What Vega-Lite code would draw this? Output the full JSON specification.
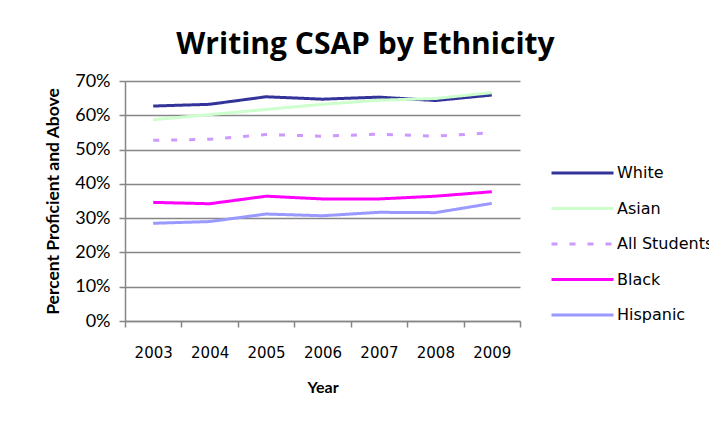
{
  "$schema": "https://vega.github.io/schema/vega-lite/v6.json",
  "width": 395,
  "height": 240,
  "autosize": {"type": "none"},
  "padding": {"left": 125, "top": 81, "right": 189, "bottom": 101},
  "background": "white",
  "title": {
    "text": "Writing CSAP by Ethnicity",
    "font": "Open Sans",
    "fontWeight": "bold",
    "fontSize": 30,
    "color": "black",
    "anchor": "middle",
    "dx": 43,
    "offset": 12
  },
  "config": {
    "view": {"stroke": null},
    "axis": {
      "domainColor": "#868686",
      "tickColor": "#868686",
      "gridColor": "#868686",
      "labelColor": "black",
      "titleColor": "black"
    },
    "legend": {"labelColor": "black"}
  },
  "data": {
    "values": [
      {"year": "2003", "group": "White", "pct": 0.627},
      {"year": "2004", "group": "White", "pct": 0.632},
      {"year": "2005", "group": "White", "pct": 0.654},
      {"year": "2006", "group": "White", "pct": 0.647},
      {"year": "2007", "group": "White", "pct": 0.653},
      {"year": "2008", "group": "White", "pct": 0.643},
      {"year": "2009", "group": "White", "pct": 0.659},
      {"year": "2003", "group": "Asian", "pct": 0.587},
      {"year": "2004", "group": "Asian", "pct": 0.602},
      {"year": "2005", "group": "Asian", "pct": 0.617},
      {"year": "2006", "group": "Asian", "pct": 0.632},
      {"year": "2007", "group": "Asian", "pct": 0.644},
      {"year": "2008", "group": "Asian", "pct": 0.649},
      {"year": "2009", "group": "Asian", "pct": 0.666},
      {"year": "2003", "group": "All Students", "pct": 0.527},
      {"year": "2004", "group": "All Students", "pct": 0.530},
      {"year": "2005", "group": "All Students", "pct": 0.544},
      {"year": "2006", "group": "All Students", "pct": 0.539},
      {"year": "2007", "group": "All Students", "pct": 0.545},
      {"year": "2008", "group": "All Students", "pct": 0.539},
      {"year": "2009", "group": "All Students", "pct": 0.549},
      {"year": "2003", "group": "Black", "pct": 0.346},
      {"year": "2004", "group": "Black", "pct": 0.342},
      {"year": "2005", "group": "Black", "pct": 0.364},
      {"year": "2006", "group": "Black", "pct": 0.356},
      {"year": "2007", "group": "Black", "pct": 0.356},
      {"year": "2008", "group": "Black", "pct": 0.364},
      {"year": "2009", "group": "Black", "pct": 0.377},
      {"year": "2003", "group": "Hispanic", "pct": 0.285},
      {"year": "2004", "group": "Hispanic", "pct": 0.290},
      {"year": "2005", "group": "Hispanic", "pct": 0.312},
      {"year": "2006", "group": "Hispanic", "pct": 0.307},
      {"year": "2007", "group": "Hispanic", "pct": 0.317},
      {"year": "2008", "group": "Hispanic", "pct": 0.316},
      {"year": "2009", "group": "Hispanic", "pct": 0.343}
    ]
  },
  "mark": {"type": "line", "strokeWidth": 3},
  "encoding": {
    "x": {
      "field": "year",
      "type": "ordinal",
      "scale": {"type": "band", "paddingInner": 0, "paddingOuter": 0},
      "axis": {
        "title": "Year",
        "titleFont": "Lato",
        "titleFontWeight": "bold",
        "titleFontSize": 16,
        "titlePadding": 19,
        "labelFont": "DejaVu Sans",
        "labelFontSize": 15,
        "labelAngle": 0,
        "labelPadding": 18,
        "tickBand": "extent",
        "tickSize": 6,
        "tickWidth": 1.5,
        "domainWidth": 1.5,
        "grid": false
      }
    },
    "y": {
      "field": "pct",
      "type": "quantitative",
      "scale": {"domain": [0, 0.7], "nice": false},
      "axis": {
        "title": "Percent Proficient and Above",
        "titleFont": "Lato",
        "titleFontWeight": "bold",
        "titleFontSize": 17.5,
        "titlePadding": 12,
        "labelFont": "Lato",
        "labelFontSize": 18,
        "labelPadding": 9,
        "format": ".0%",
        "values": [0, 0.1, 0.2, 0.3, 0.4, 0.5, 0.6, 0.7],
        "tickSize": 6,
        "tickWidth": 1.5,
        "domainWidth": 1.5,
        "grid": true,
        "gridWidth": 1.5
      }
    },
    "color": {
      "field": "group",
      "type": "nominal",
      "scale": {
        "domain": ["White", "Asian", "All Students", "Black", "Hispanic"],
        "range": ["#333399", "#CCFFCC", "#CC99FF", "#FF00FF", "#9999FF"]
      },
      "legend": {
        "title": null,
        "orient": "none",
        "legendX": 425,
        "legendY": 82,
        "symbolType": "stroke",
        "symbolSize": 3844,
        "symbolStrokeWidth": 3,
        "clipHeight": 20,
        "rowPadding": 15.5,
        "labelFont": "DejaVu Sans",
        "labelFontSize": 16,
        "labelOffset": 2
      }
    },
    "strokeDash": {
      "field": "group",
      "type": "nominal",
      "scale": {
        "domain": ["White", "Asian", "All Students", "Black", "Hispanic"],
        "range": [[1, 0], [1, 0], [6, 12], [1, 0], [1, 0]]
      },
      "legend": null
    }
  }
}
